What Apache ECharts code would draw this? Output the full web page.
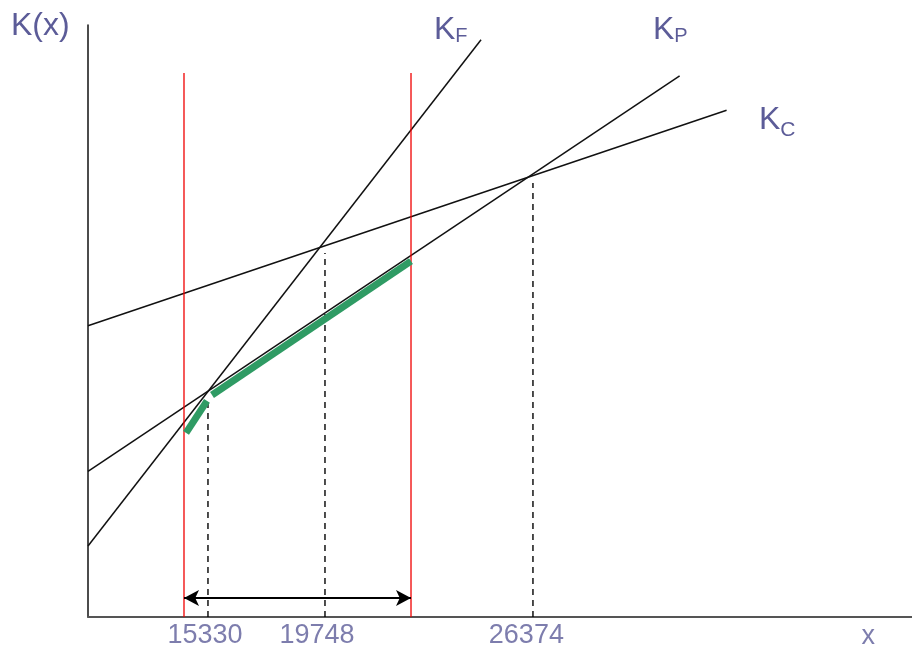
<!DOCTYPE html>
<html><head><meta charset="utf-8">
<script src="https://cdn.jsdelivr.net/npm/echarts@6/dist/echarts.min.js"></script>
<style>html,body{margin:0;padding:0;background:#fff}#c{width:912px;height:651px}</style>
</head><body><div id="c"></div>
<script>
// Schematic cost lines (abstract units, x 0..100, y 0..100)
const lineKF = [[0, 12.0], [47.7, 97.5]];
const lineKP = [[0, 24.6], [71.8, 91.4]];
const lineKC = [[0, 49.2], [77.5, 85.6]];
// Red boundaries of the feasible range
const redX = [11.65, 39.2];
const redTop = 91.9;
// Break-even points: positions, labels, heights of the dashed drop lines
const breakX = [14.56, 28.76, 54.0];
const breakTop = [36.1, 61.5, 73.3];
const tickLabels = ['15330', '19748', '26374'];
const tickLabelX = [14.2, 27.8, 53.2];
// Minimum-cost path (green)
const green1 = [[11.9, 31.1], [14.44, 36.5]];
const green2 = [[15.05, 37.5], [39.2, 60.1]];
// Double arrow
const arrowY = 3.2;

const txt = '#5c5c98';
const series = [];
const plain = (data, color, width, type, z) => ({
  type: 'line', data: data, symbol: 'none', silent: true, animation: false, z: z || 2,
  lineStyle: { color: color, width: width, type: type || 'solid', cap: 'butt' }
});
series.push(plain(lineKF, '#111', 1.5));
series.push(plain(lineKP, '#111', 1.5));
series.push(plain(lineKC, '#111', 1.5));
redX.forEach(x => series.push(plain([[x, 0], [x, redTop]], '#f00000', 1.3)));
breakX.forEach((x, i) => series.push(plain([[x, 0], [x, breakTop[i]]], '#000', 1.4, [6, 5])));
series.push(plain(green1, '#2f9b64', 7, 'solid', 5));
series.push(plain(green2, '#2f9b64', 7, 'solid', 5));
series.push({
  type: 'line', data: [], symbol: 'none', silent: true, animation: false,
  markLine: {
    silent: true, animation: false, symbol: ['arrow', 'arrow'], symbolSize: [12, 15],
    label: { show: false },
    lineStyle: { color: '#000', width: 1.8, type: 'solid' },
    data: [[{ coord: [redX[0], arrowY] }, { coord: [redX[1], arrowY] }]]
  }
});
series.push({
  type: 'scatter', symbolSize: 0, clip: false, silent: true, animation: false,
  data: tickLabels.map((t, i) => ({ value: [tickLabelX[i], -3.1], name: t }))
    .concat([{ value: [94.7, -3.3], name: 'x' }]),
  label: { show: true, position: 'inside', formatter: p => p.name, color: txt,
    fontSize: 27, fontFamily: 'Liberation Sans' }
});

const chart = echarts.init(document.getElementById('c'));
const sub = (k, s, fs, off) => ({
  type: 'text', left: k.left, top: k.top, silent: true,
  style: {
    text: '{a|K}{b|' + s + '}', fill: txt, fontFamily: 'Liberation Sans',
    rich: {
      a: { fontSize: 32, fill: txt, fontFamily: 'Liberation Sans', lineHeight: 34, verticalAlign: 'bottom' },
      b: { fontSize: fs, fill: txt, fontFamily: 'Liberation Sans', lineHeight: 34, verticalAlign: 'bottom', padding: [0, 0, off, 0] }
    }
  }
});
chart.setOption({
  animation: false,
  grid: { left: 88, right: 0, top: 25, bottom: 34 },
  xAxis: { type: 'value', min: 0, max: 100, splitLine: { show: false },
    axisLine: { show: true, onZero: false, lineStyle: { color: '#555', width: 2 } },
    axisTick: { show: false }, axisLabel: { show: false } },
  yAxis: { type: 'value', min: 0, max: 100, splitLine: { show: false },
    axisLine: { show: true, onZero: false, lineStyle: { color: '#111', width: 1.5 } },
    axisTick: { show: false }, axisLabel: { show: false } },
  graphic: [
    { type: 'text', left: 11, top: 10, silent: true,
      style: { text: 'K(x)', fill: txt, fontSize: 32, fontFamily: 'Liberation Sans' } },
    sub({ left: 434, top: 14 }, 'F', 20, 0),
    sub({ left: 653, top: 14 }, 'P', 20, 0),
    sub({ left: 759, top: 104 }, 'C', 21, -5)
  ],
  series: series
});
</script></body></html>
